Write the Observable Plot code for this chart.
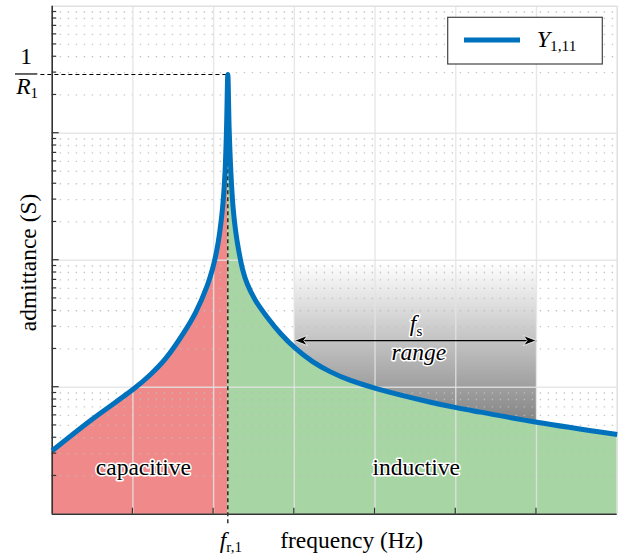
<!DOCTYPE html>
<html><head><meta charset="utf-8">
<script src="https://cdn.jsdelivr.net/npm/d3@7"></script>
<script src="https://cdn.jsdelivr.net/npm/@observablehq/plot@0.6"></script>
<style>
html,body{margin:0;padding:0;background:#fff;}
#chart svg{display:block;}
#chart svg, #chart svg text{font-family:"Liberation Serif","Times New Roman",Times,"DejaVu Serif",serif !important;}
</style></head><body><div id="chart"></div>
<script>
// ---- data ----
const resonanceFreq = 2.176;          // f_r,1 (x units)
const peakAdmittance = 2900;          // 1/R1
const capFreq = [0, 0.475, 1.011, 1.218, 1.404, 1.627, 1.776, 1.921, 1.986, 2.036, 2.073, 2.110, 2.141, 2.160, 2.176];
const capAdm  = [3.16, 5.47, 9.71, 12.6, 16.8, 26.7, 38.7, 63.2, 85.2, 117, 162, 255, 490, 1109, 2900];
const indFreq = [2.176, 2.192, 2.214, 2.240, 2.271, 2.309, 2.358, 2.416, 2.519, 2.664, 2.829, 3.015, 3.226, 3.449, 3.696, 4.027, 4.688, 5.006, 5.307, 6.005, 7.0];
const indAdm  = [2900, 1109, 490, 265, 173, 121, 85.2, 65.2, 48.2, 35.6, 26.5, 20.2, 15.9, 13.2, 11.3, 9.71, 7.62, 6.90, 6.36, 5.30, 4.24];
const fsRange = [3, 6];
const xGrid = [1, 2, 3, 4, 5, 6];
const yMajor = [1, 10, 100, 1000, 10000];
const yMinor = [1, 10, 100, 1000].flatMap(e => [2,3,4,5,6,7,8,9].map(k => k * e));
const regionNames = ["capacitive", "inductive"];
const regionFreq = [1.13, 4.51];
const regionAdm = [2.33, 2.33];
const legendLabel = "Y_{1,11}";

const FONT = '"Liberation Serif","Times New Roman",Times,"DejaVu Serif",serif';
const capData = capFreq.map((f, i) => ({f, y: capAdm[i]}));
const indData = indFreq.map((f, i) => ({f, y: indAdm[i]}));
const curveData = capData.concat(indData.slice(1));

const W = 627, H = 557, ML = 51.7, MR = 10.3, MT = 5.7, MB = 43.3;
const FS = 23.5;
const CURVE = "catmull-rom";

const plot = Plot.plot({
  width: W, height: H,
  marginLeft: ML, marginRight: MR, marginTop: MT, marginBottom: MB,
  x: {domain: [0, 7], axis: null},
  y: {type: "log", domain: [1, 1e4], axis: null},
  style: {fontFamily: FONT, fontSize: FS + "px", background: "white", overflow: "visible", color: "black"},
  marks: [
    Plot.rect([fsRange], {x1: d => d[0], x2: d => d[1], y1: () => 1, y2: () => 96, fill: "url(#fsGrad)"}),
    Plot.areaY(capData, {x: "f", y1: () => 1, y2: "y", fill: "#f08a8a", curve: CURVE}),
    Plot.areaY(indData, {x: "f", y1: () => 1, y2: "y", fill: "#a7d5a4", curve: CURVE}),
    Plot.ruleY(yMinor, {stroke: "#bdbdbd", strokeWidth: 1.3, strokeDasharray: "1.4,6.6", strokeOpacity: 0.85}),
    Plot.ruleY([10, 100, 1000], {stroke: "#e3e3e3", strokeWidth: 1.4, strokeOpacity: 0.85}),
    Plot.ruleX(xGrid, {stroke: "#e3e3e3", strokeWidth: 1.4, strokeOpacity: 0.85}),
    Plot.ruleY([1e4], {stroke: "#e0e0e0", strokeWidth: 1.5}),
    Plot.ruleX([7], {stroke: "#e0e0e0", strokeWidth: 1.5}),
    Plot.ruleX([resonanceFreq], {y1: 0.84, y2: peakAdmittance, stroke: "black", strokeWidth: 1.2, strokeDasharray: "4,3"}),
    Plot.ruleY([peakAdmittance], {x1: -0.14, x2: resonanceFreq, stroke: "black", strokeWidth: 1.2, strokeDasharray: "4,3"}),
    Plot.ruleX([0], {stroke: "#333", strokeWidth: 1.6}),
    Plot.ruleY([1], {stroke: "#333", strokeWidth: 1.6}),
    Plot.line(curveData, {x: "f", y: "y", stroke: "#0072bd", strokeWidth: 5, curve: CURVE, strokeLinejoin: "round", strokeLinecap: "butt"}),
    Plot.link([fsRange], {x1: d => d[0], x2: d => d[1], y1: () => 23.3, y2: () => 23.3, stroke: "black", strokeWidth: 1.3}),
    Plot.text(["f_{s}"], {x: () => 4.508, y: () => 31.5, fill: "black", stroke: "white", strokeWidth: 3, fontSize: FS}),
    Plot.text(["range"], {x: () => 4.543, y: () => 18.9, fill: "black", stroke: "white", strokeWidth: 3, fontStyle: "italic", fontSize: FS}),
    Plot.text(regionNames, {x: (d, i) => regionFreq[i], y: (d, i) => regionAdm[i], fill: "black", stroke: "white", strokeWidth: 3, fontSize: FS}),
    Plot.text(["frequency (Hz)"], {x: () => 3.71, frameAnchor: "bottom", textAnchor: "middle", lineAnchor: "middle", dy: 26, fontSize: FS}),
    Plot.text(["f_{r,1}"], {x: () => resonanceFreq, frameAnchor: "bottom", textAnchor: "middle", lineAnchor: "middle", dx: 3, dy: 26, fontSize: FS}),
    Plot.text(["admittance (S)"], {y: () => 96, frameAnchor: "left", textAnchor: "middle", lineAnchor: "middle", rotate: -90, dx: -24, fontSize: FS}),
    Plot.text(["1"], {y: () => peakAdmittance, frameAnchor: "left", textAnchor: "middle", lineAnchor: "middle", dx: -26, dy: -18, fontSize: FS}),
    Plot.text(["R_{1}"], {y: () => peakAdmittance, frameAnchor: "left", textAnchor: "middle", lineAnchor: "middle", dx: -25, dy: 12, fontSize: FS})
  ]
});

const svg = d3.select(plot);

// rich text (italic base + subscript)
svg.selectAll("text").each(function() {
  const m = /^(.*)_\{(.*)\}$/.exec(this.textContent);
  if (!m) return;
  const s = d3.select(this);
  s.text(null);
  s.append("tspan").attr("font-style", "italic").text(m[1]);
  s.append("tspan").attr("font-size", "0.64em").attr("dy", "0.28em").text(m[2]);
});

const defs = svg.insert("defs", ":first-child");
const grad = defs.append("linearGradient").attr("id", "fsGrad").attr("x1", 0).attr("y1", 0).attr("x2", 0).attr("y2", 1);
grad.append("stop").attr("offset", 0).attr("stop-color", "#ffffff");
grad.append("stop").attr("offset", 1).attr("stop-color", "#3e3e3e");
const mk = defs.append("marker").attr("id", "stealth").attr("markerUnits", "userSpaceOnUse")
  .attr("orient", "auto-start-reverse").attr("markerWidth", 30).attr("markerHeight", 30)
  .attr("refX", 0).attr("refY", 0).attr("viewBox", "-15 -15 30 30").attr("overflow", "visible");
mk.append("path").attr("d", "M0,0L-13,-5L-9.5,0L-13,5Z").attr("fill", "black").attr("stroke", "white").attr("stroke-width", 0.8);
svg.selectAll('g[aria-label="link"] path').attr("marker-start", "url(#stealth)").attr("marker-end", "url(#stealth)");

// axis ticks (inward), positioned with the plot's scales
const xs = plot.scale("x"), ys = plot.scale("y");
const x0 = xs.apply(0), yBottom = ys.apply(1);
const tg = svg.append("g").attr("stroke", "#333").attr("stroke-width", 1.2);
yMajor.slice(1, 4).forEach(v => tg.append("line").attr("x1", x0).attr("x2", x0 + 7).attr("y1", ys.apply(v)).attr("y2", ys.apply(v)));
yMinor.forEach(v => tg.append("line").attr("x1", x0).attr("x2", x0 + 4.5).attr("y1", ys.apply(v)).attr("y2", ys.apply(v)));
xGrid.forEach(v => tg.append("line").attr("x1", xs.apply(v)).attr("x2", xs.apply(v)).attr("y1", yBottom).attr("y2", yBottom - 6));

// fraction bar for 1/R1
const yPk = ys.apply(peakAdmittance);
svg.append("line").attr("x1", x0 - 36.7).attr("x2", x0 - 14.4).attr("y1", yPk).attr("y2", yPk)
  .attr("stroke", "black").attr("stroke-width", 1.2);

// legend
const lx = W - MR - 14.4 - 154.6, ly = MT + 11.6;
const lg = svg.append("g").attr("font-family", FONT);
lg.append("rect").attr("x", lx).attr("y", ly).attr("width", 154.6).attr("height", 46.7)
  .attr("fill", "white").attr("stroke", "#444").attr("stroke-width", 1.2);
lg.append("line").attr("x1", lx + 16.3).attr("x2", lx + 72.3).attr("y1", ly + 22.7).attr("y2", ly + 22.7)
  .attr("stroke", "#0072bd").attr("stroke-width", 5);
const lt = lg.append("text").attr("x", lx + 89).attr("y", ly + 29.4).attr("font-size", 24)
  .attr("fill", "black").attr("text-anchor", "start");
const lm = /^(.*)_\{(.*)\}$/.exec(legendLabel);
lt.append("tspan").attr("font-style", "italic").text(lm[1]);
lt.append("tspan").attr("font-size", "0.64em").attr("dy", "0.28em").text(lm[2]);

document.getElementById("chart").appendChild(plot);
</script>
</body></html>
